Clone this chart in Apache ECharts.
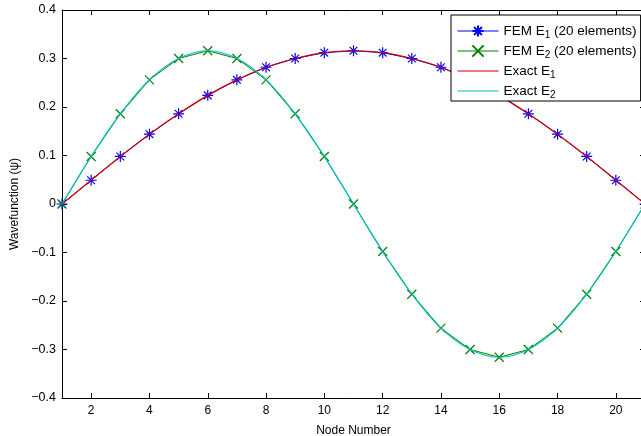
<!DOCTYPE html>
<html><head><meta charset="utf-8">
<script src="https://cdn.jsdelivr.net/npm/echarts@6/dist/echarts.min.js"></script>
<style>html,body{margin:0;padding:0;background:#fff}#c{width:641px;height:436px}</style>
</head><body><div id="c"></div>
<script>
const nodes = [1,2,3,4,5,6,7,8,9,10,11,12,13,14,15,16,17,18,19,20,21];
const femE1 = [0,0.049,0.098,0.144,0.186,0.224,0.256,0.282,0.300,0.312,0.316,0.312,0.300,0.282,0.256,0.224,0.186,0.144,0.098,0.049,0];
const femE2 = [0,0.098,0.186,0.256,0.300,0.316,0.300,0.256,0.186,0.098,0,-0.098,-0.186,-0.256,-0.300,-0.316,-0.300,-0.256,-0.186,-0.098,0];
const exactE1 = [0,0.049,0.098,0.144,0.186,0.224,0.256,0.282,0.300,0.312,0.316,0.312,0.300,0.282,0.256,0.224,0.186,0.144,0.098,0.049,0];
const exactE2 = [0,0.098,0.186,0.256,0.300,0.316,0.300,0.256,0.186,0.098,0,-0.098,-0.186,-0.256,-0.300,-0.316,-0.300,-0.256,-0.186,-0.098,0];
const xTicks = [2,4,6,8,10,12,14,16,18,20];
const seriesNames = ['FEM E1 (20 elements)','FEM E2 (20 elements)','Exact E1','Exact E2'];

const pair = (ys) => nodes.map((x,i)=>[x,ys[i]]);
const font = 'Liberation Sans, Arial, Helvetica, sans-serif';
const star = 'path://M5,0L5,10M0,5L10,5M1.5,1.5L8.5,8.5M8.5,1.5L1.5,8.5';
const cross = 'path://M0,0L10,10M10,0L0,10';

const chart = echarts.init(document.getElementById('c'), null, {renderer:'canvas'});
const baseX = {type:'value', min:1, max:21, axisLine:{show:true,onZero:false,lineStyle:{color:'#000',width:1}},
  splitLine:{show:false}};
const baseY = {type:'value', min:-0.4, max:0.4, interval:0.1, axisLine:{show:true,onZero:false,lineStyle:{color:'#000',width:1}},
  splitLine:{show:false}};
chart.setOption({
  animation:false,
  backgroundColor:'#fff',
  grid:{left:62, top:10, width:583, height:388, containLabel:false, outerBoundsMode:'none'},
  xAxis:[
    Object.assign({}, baseX, {position:'bottom', name:'Node Number', nameLocation:'middle', nameGap:27,
      nameTextStyle:{color:'#000',fontSize:12,fontFamily:font},
      axisTick:{show:true,inside:true,length:5,customValues:xTicks,lineStyle:{color:'#000'}},
      axisLabel:{show:true,customValues:xTicks,color:'#000',fontSize:12,fontFamily:font,margin:7}}),
    Object.assign({}, baseX, {position:'top',
      axisTick:{show:true,inside:true,length:5,customValues:xTicks,lineStyle:{color:'#000'}},
      axisLabel:{show:false}})
  ],
  yAxis:[
    Object.assign({}, baseY, {position:'left', name:'Wavefunction (\u03c8)', nameLocation:'middle', nameGap:38,
      nameTextStyle:{color:'#000',fontSize:12,fontFamily:font},
      axisTick:{show:true,inside:true,length:5,lineStyle:{color:'#000'}},
      axisLabel:{show:true,color:'#000',fontSize:12.5,fontFamily:font,margin:6,
        formatter:(v)=>{ if (Math.abs(v)<1e-9) return '0'; const s=(Math.round(v*10)/10).toFixed(1); return v<0 ? '\u2212'+s.slice(1) : s; }}}),
    Object.assign({}, baseY, {position:'right',
      axisTick:{show:true,inside:true,length:5,lineStyle:{color:'#000'}},
      axisLabel:{show:false}})
  ],
  legend:{
    left:451, top:15, orient:'vertical', width:180,
    backgroundColor:'#fff', borderColor:'#000', borderWidth:1, padding:[9,4,1,6],
    itemWidth:41, itemHeight:14, itemGap:4,
    lineStyle:{width:1},
    data:[
      {name:seriesNames[0]},
      {name:seriesNames[1]},
      {name:seriesNames[2], itemStyle:{opacity:0}},
      {name:seriesNames[3], itemStyle:{opacity:0}}
    ],
    textStyle:{color:'#000',fontSize:13,fontFamily:font,
      rich:{sub:{fontSize:10,verticalAlign:'bottom',padding:[8,0,0,0],color:'#000',fontFamily:font}, n:{fontSize:13.5,color:'#000',fontFamily:font}}},
    formatter:(name)=>{
      const m = name.match(/^(.*E)(\d)(.*)$/);
      return '{n|'+m[1]+'}{sub|'+m[2]+'}{n|'+m[3]+'}';
    }
  },
  series:[
    {name:seriesNames[0], type:'line', data:pair(femE1), symbol:star, symbolSize:11, showAllSymbol:true,
      lineStyle:{color:'#0000ff',width:1}, itemStyle:{color:'#0000ff',borderColor:'#0000ff',borderWidth:1.2}, z:2},
    {name:seriesNames[1], type:'line', data:pair(femE2), symbol:cross, symbolSize:9, showAllSymbol:true,
      lineStyle:{color:'#008000',width:1}, itemStyle:{color:'#008000',borderColor:'#008000',borderWidth:1.2}, z:2},
    {name:seriesNames[2], type:'line', data:pair(exactE1), smooth:0.35, symbol:'none',
      lineStyle:{color:'#cc0000',width:1.2}, itemStyle:{color:'#cc0000'}, z:3},
    {name:seriesNames[3], type:'line', data:pair(exactE2), smooth:0.35, symbol:'none',
      lineStyle:{color:'#00bfbf',width:1.2}, itemStyle:{color:'#00bfbf'}, z:3}
  ]
});
</script></body></html>
